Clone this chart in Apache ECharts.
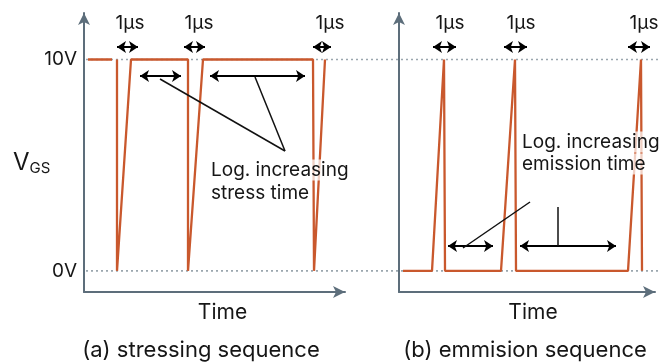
<!DOCTYPE html>
<html>
<head>
<meta charset="utf-8">
<script src="https://cdn.jsdelivr.net/npm/echarts@6/dist/echarts.min.js"></script>
<style>
  html, body { margin: 0; padding: 0; background: #fff; }
  #chart { width: 659px; height: 362px; }
</style>
</head>
<body>
<div id="chart"></div>
<script>
// Gate voltage levels (V)
const levels = [0, 10];
const levelLabels = ['0V', '10V'];

// (a) stressing sequence: time (a.u.) and V_GS (V); null breaks the trace
const stressTime = [4, 28, null, 33, 33, 47, 104, 104, 119, 229, 230, 241];
const stressVgs  = [10, 10, null, 10, 0, 10, 10, 0, 10, 10, 0, 10];

// (b) emission sequence: time (a.u.) and V_GS (V)
const emitTime = [4, 33, 45, 46, 102, 116, 117, 229, 242, 243];
const emitVgs  = [0, 0, 10, 0, 0, 10, 0, 0, 10, 0];

const pulseLabel = '1μs';
const stressNote = ['Log. increasing', 'stress time'];
const emitNote = ['Log. increasing', 'emission time'];
const captions = ['(a) stressing sequence', '(b) emmision sequence'];

const FONT = 'Inter, "Noto Sans", sans-serif';
const TRACE = '#c9582d';
const AXIS = '#5d6e7b';
const INK = '#161616';

function pair(a, b) { return a.map((v, i) => [v, b[i]]); }

const chart = echarts.init(document.getElementById('chart'));

const axisCommon = {
  axisLine: { show: true, onZero: false, symbol: ['none', 'arrow'], symbolSize: [9, 12], lineStyle: { color: AXIS, width: 2 } },
  axisTick: { show: false },
  splitLine: { show: false }
};

function yAxisFor(gridIndex, showLabels) {
  return Object.assign({}, axisCommon, {
    type: 'value', gridIndex, min: -1, max: 12.2,
    axisLabel: {
      show: showLabels, customValues: levels, margin: 7,
      formatter: v => levelLabels[levels.indexOf(v)],
      color: INK, fontFamily: FONT, fontSize: 19
    }
  });
}

function xAxisFor(gridIndex, max, padLeft) {
  return Object.assign({}, axisCommon, {
    type: 'value', gridIndex, min: 0, max,
    axisLabel: { show: false },
    name: 'Time', nameLocation: 'middle', nameGap: 10,
    nameTextStyle: { color: INK, fontFamily: FONT, fontSize: 21, padding: [0, 0, 0, padLeft] }
  });
}

// double-headed arrow and plain pointer segments, in pixel positions
function seg(x1, y1, x2, y2) { return [{ x: x1, y: y1 }, { x: x2, y: y2 }]; }

const arrowMarks = {
  silent: true, animation: false,
  symbol: ['arrow', 'arrow'], symbolSize: [9, 9],
  label: { show: false },
  lineStyle: { color: '#000', width: 2, type: 'solid' },
  emphasis: { disabled: true },
  data: [
    seg(117, 47, 138, 47), seg(184, 47, 205, 47), seg(313, 47, 331, 47),
    seg(140, 76, 181, 76), seg(210, 76, 305, 76),
    seg(433, 47, 456, 47), seg(504, 47, 527, 47), seg(628, 47, 650, 47),
    seg(448, 246, 493, 246), seg(520, 246, 616, 246)
  ]
};

const pointerMarks = {
  silent: true, animation: false,
  symbol: ['none', 'none'],
  label: { show: false },
  lineStyle: { color: '#111', width: 1.5, type: 'solid' },
  emphasis: { disabled: true },
  data: [
    seg(160, 79, 285, 151), seg(255, 77, 285, 151),
    seg(463, 248, 530, 202), seg(558, 207, 558, 246)
  ]
};

function text(str, x, y, size, align, veil) {
  const style = { text: str, fill: INK, font: size + 'px ' + FONT, align: align || 'center', verticalAlign: 'middle' };
  if (veil) {
    style.backgroundColor = 'rgba(255,255,255,0.72)';
    style.padding = [1, 2];
  }
  return { type: 'text', x, y, z: 10, style };
}

const option = {
  animation: false,
  grid: [
    { left: 84, top: 13, width: 261, bottom: 70 },
    { left: 399, top: 13, width: 256, bottom: 70 },
    { left: 86, top: 13, right: 0, bottom: 70, show: false }
  ],
  xAxis: [
    xAxisFor(0, 261, 16),
    xAxisFor(1, 256, 12),
    { type: 'value', gridIndex: 2, min: 0, max: 1, show: false }
  ],
  yAxis: [
    yAxisFor(0, true),
    yAxisFor(1, false),
    { type: 'value', gridIndex: 2, min: -1, max: 12.2, show: false }
  ],
  series: [
    // dotted reference levels across both panels
    ...levels.map(v => ({
      type: 'line', xAxisIndex: 2, yAxisIndex: 2, z: 1, silent: true,
      data: [[0, v], [1, v]], symbol: 'none',
      lineStyle: { color: '#9aa6ae', width: 1.6, type: [2, 3] }
    })),
    {
      type: 'line', xAxisIndex: 0, yAxisIndex: 0, z: 3,
      data: pair(stressTime, stressVgs), symbol: 'none', connectNulls: false,
      lineStyle: { color: TRACE, width: 2.3 }
    },
    {
      type: 'line', xAxisIndex: 1, yAxisIndex: 1, z: 3,
      data: pair(emitTime, emitVgs), symbol: 'none',
      lineStyle: { color: TRACE, width: 2.3 }
    },
    {
      type: 'line', xAxisIndex: 0, yAxisIndex: 0, z: 5, data: [],
      markLine: arrowMarks
    },
    {
      type: 'line', xAxisIndex: 1, yAxisIndex: 1, z: 5, data: [],
      markLine: pointerMarks
    }
  ],
  graphic: [
    text(pulseLabel, 130, 23, 19), text(pulseLabel, 199, 23, 19), text(pulseLabel, 330, 23, 19),
    text(pulseLabel, 450, 23, 19), text(pulseLabel, 521, 23, 19), text(pulseLabel, 644, 23, 19),
    text(stressNote[0], 209, 170, 19, 'left', true), text(stressNote[1], 209, 193, 19, 'left', true),
    text(emitNote[0], 520, 142, 19, 'left', true), text(emitNote[1], 520, 164, 19, 'left', true),
    {
      type: 'text', x: 13, y: 163, z: 10,
      style: {
        text: '{v|V}{s|GS}', verticalAlign: 'middle',
        rich: {
          v: { fontFamily: FONT, fontSize: 24, fill: INK, verticalAlign: 'middle' },
          s: { fontFamily: FONT, fontSize: 15, fill: INK, padding: [10, 0, 0, 0] }
        }
      }
    },
    text(captions[0], 201, 350, 22), text(captions[1], 525, 350, 22)
  ]
};

chart.setOption(option);
</script>
</body>
</html>
